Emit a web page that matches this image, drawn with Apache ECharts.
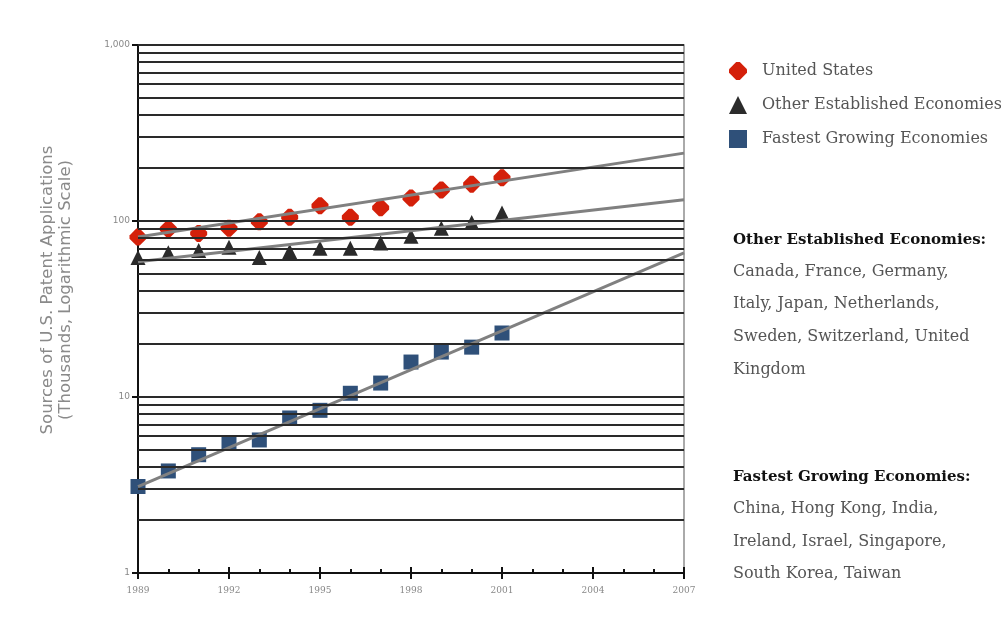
<!DOCTYPE html>
<html>
<head>
<meta charset="utf-8">
<script src="https://cdn.jsdelivr.net/npm/echarts@6/dist/echarts.min.js"></script>
<style>
  html, body { margin: 0; padding: 0; background: #fff; }
  #chart { width: 1001px; height: 627px; }
</style>
</head>
<body>
<div id="chart"></div>
<script>
// years of observed data
var years = [1989, 1990, 1991, 1992, 1993, 1994, 1995, 1996, 1997, 1998, 1999, 2000, 2001];
// thousands of applications
var usValues = [81, 90, 85, 91, 99, 105, 122, 105, 119, 135, 150, 162, 176];
var otherValues = [62, 66, 68, 71, 62, 67, 70, 70, 75, 82, 91, 98, 111];
var fastValues = [3.1, 3.8, 4.7, 5.5, 5.7, 7.6, 8.4, 10.5, 12.0, 15.8, 18.0, 19.2, 23.1];

// fitted trend lines (end points)
var trendYears = [1989, 2007];
var usTrend = [81, 243];
var otherTrend = [58.6, 132];
var fastTrend = [3.1, 66];

// horizontal rules of the log grid
var gridValues = [2, 3, 4, 5, 6, 7, 8, 9, 10, 20, 30, 40, 50, 60, 70, 80, 90, 100,
  200, 300, 400, 500, 600, 700, 800, 900, 1000];

var seriesNames = ['United States', 'Other Established Economies', 'Fastest Growing Economies'];

var otherText = 'Canada, France, Germany,\nItaly, Japan, Netherlands,\nSweden, Switzerland, United\nKingdom';
var fastText = 'China, Hong Kong, India,\nIreland, Israel, Singapore,\nSouth Korea, Taiwan';

function pairs(xs, ys) {
  return xs.map(function (x, i) { return [x, ys[i]]; });
}

var chart = echarts.init(document.getElementById('chart'));

var option = {
  backgroundColor: '#fff',
  animation: false,
  grid: { left: 138, right: 317, top: 45, bottom: 54 },
  legend: {
    data: seriesNames,
    orient: 'vertical',
    left: 724,
    top: 57,
    itemWidth: 18,
    itemHeight: 18,
    itemGap: 16,
    itemStyle: { opacity: 1 },
    textStyle: { fontFamily: 'DejaVu Serif', fontSize: 16, color: '#555', padding: [0, 0, 0, 10] }
  },
  xAxis: [{
    type: 'value',
    min: 1989,
    max: 2007,
    interval: 3,
    splitLine: { show: false },
    axisLine: { lineStyle: { color: '#111', width: 2 } },
    axisTick: { inside: true, length: 6, lineStyle: { color: '#111', width: 2 } },
    minorTick: { show: true, splitNumber: 3, length: 4, lineStyle: { color: '#111', width: 2 } },
    axisLabel: {
      color: '#888', fontSize: 9, fontFamily: 'DejaVu Serif', margin: 13,
      formatter: function (v) { return String(v); }
    }
  }, {
    type: 'value',
    min: 1989,
    max: 2007,
    interval: 3,
    position: 'bottom',
    splitLine: { show: false },
    axisLine: { show: false },
    axisTick: { length: 6, lineStyle: { color: '#111', width: 2 } },
    axisLabel: { show: false }
  }],
  yAxis: [{
    type: 'log',
    logBase: 10,
    min: 1,
    max: 1000,
    splitLine: { show: false },
    axisLine: { show: true, lineStyle: { color: '#111', width: 2 } },
    axisTick: { show: true, length: 6, lineStyle: { color: '#111', width: 2 } },
    axisLabel: {
      color: '#888', fontSize: 9, fontFamily: 'DejaVu Sans', margin: 8,
      formatter: function (v) { return v >= 1000 ? '1,000' : String(v); }
    }
  }, {
    type: 'log',
    logBase: 10,
    min: 1,
    max: 1000,
    position: 'right',
    splitLine: { show: false },
    axisLine: { show: true, lineStyle: { color: '#aaa', width: 2 } },
    axisTick: { show: false },
    axisLabel: { show: false }
  }],
  graphic: [
    { type: 'text', x: 57, y: 290, rotation: Math.PI / 2,
      style: {
        text: 'Sources of U.S. Patent Applications\n(Thousands, Logarithmic Scale)',
        fill: '#8a8a8a', font: '16.5px "DejaVu Sans"', lineHeight: 18,
        textAlign: 'center', textVerticalAlign: 'middle'
      } },
    { type: 'text', left: 733, top: 233,
      style: { text: 'Other Established Economies:', fill: '#111', font: 'bold 15px "DejaVu Serif"' } },
    { type: 'text', left: 733, top: 255,
      style: { text: otherText, fill: '#555', font: '16px "DejaVu Serif"', lineHeight: 32.7 } },
    { type: 'text', left: 733, top: 470,
      style: { text: 'Fastest Growing Economies:', fill: '#111', font: 'bold 15px "DejaVu Serif"' } },
    { type: 'text', left: 733, top: 493,
      style: { text: fastText, fill: '#555', font: '16px "DejaVu Serif"', lineHeight: 32.5 } }
  ],
  series: [{
    name: 'grid',
    type: 'line',
    data: [],
    z: 1,
    silent: true,
    markLine: {
      symbol: 'none',
      silent: true,
      animation: false,
      label: { show: false },
      lineStyle: { color: '#2a2a2a', width: 2, type: 'solid' },
      data: gridValues.map(function (v) { return { yAxis: v }; })
    }
  }, {
    name: seriesNames[0],
    type: 'scatter',
    symbol: 'path://M4,0 L6,0 L10,4 L10,6 L6,10 L4,10 L0,6 L0,4 Z',
    symbolSize: 17,
    itemStyle: { color: '#d4200a', opacity: 1 },
    z: 3,
    data: pairs(years, usValues)
  }, {
    name: seriesNames[1],
    type: 'scatter',
    symbol: 'triangle',
    symbolSize: 15,
    itemStyle: { color: '#2b2b2b', opacity: 1 },
    z: 3,
    data: pairs(years, otherValues)
  }, {
    name: seriesNames[2],
    type: 'scatter',
    symbol: 'rect',
    symbolSize: 15,
    itemStyle: { color: '#2f5079', opacity: 1 },
    z: 3,
    data: pairs(years, fastValues)
  }, {
    name: 'usTrend',
    type: 'line',
    showSymbol: false,
    symbol: 'none',
    lineStyle: { color: '#808080', width: 3 },
    z: 4,
    data: pairs(trendYears, usTrend)
  }, {
    name: 'otherTrend',
    type: 'line',
    showSymbol: false,
    symbol: 'none',
    lineStyle: { color: '#808080', width: 3 },
    z: 4,
    data: pairs(trendYears, otherTrend)
  }, {
    name: 'fastTrend',
    type: 'line',
    showSymbol: false,
    symbol: 'none',
    lineStyle: { color: '#808080', width: 3 },
    z: 4,
    data: pairs(trendYears, fastTrend)
  }]
};

chart.setOption(option);
</script>
</body>
</html>
